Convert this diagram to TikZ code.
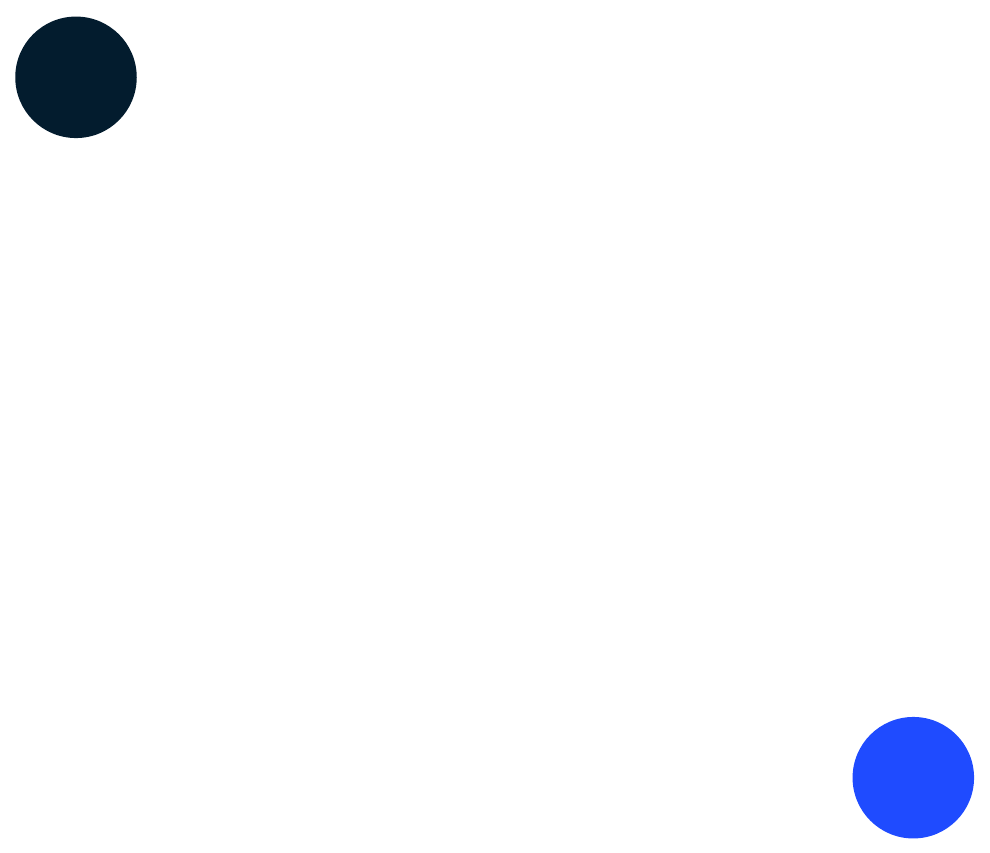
\documentclass[tikz,border=0pt]{standalone}
\definecolor{navydot}{HTML}{031C2E}
\definecolor{bluedot}{HTML}{1F4BFF}
\tikzset{dot/.style={circle, inner sep=0pt, minimum size=121.5pt, draw=none}}
\begin{document}
\begin{tikzpicture}[x=1pt, y=-1pt]
\useasboundingbox (0,0) rectangle (990,852);
\node[dot, fill=navydot] (a) at (76,77.3) {};
\node[dot, fill=bluedot] (b) at (913.3,777.7) {};
\end{tikzpicture}
\end{document}
